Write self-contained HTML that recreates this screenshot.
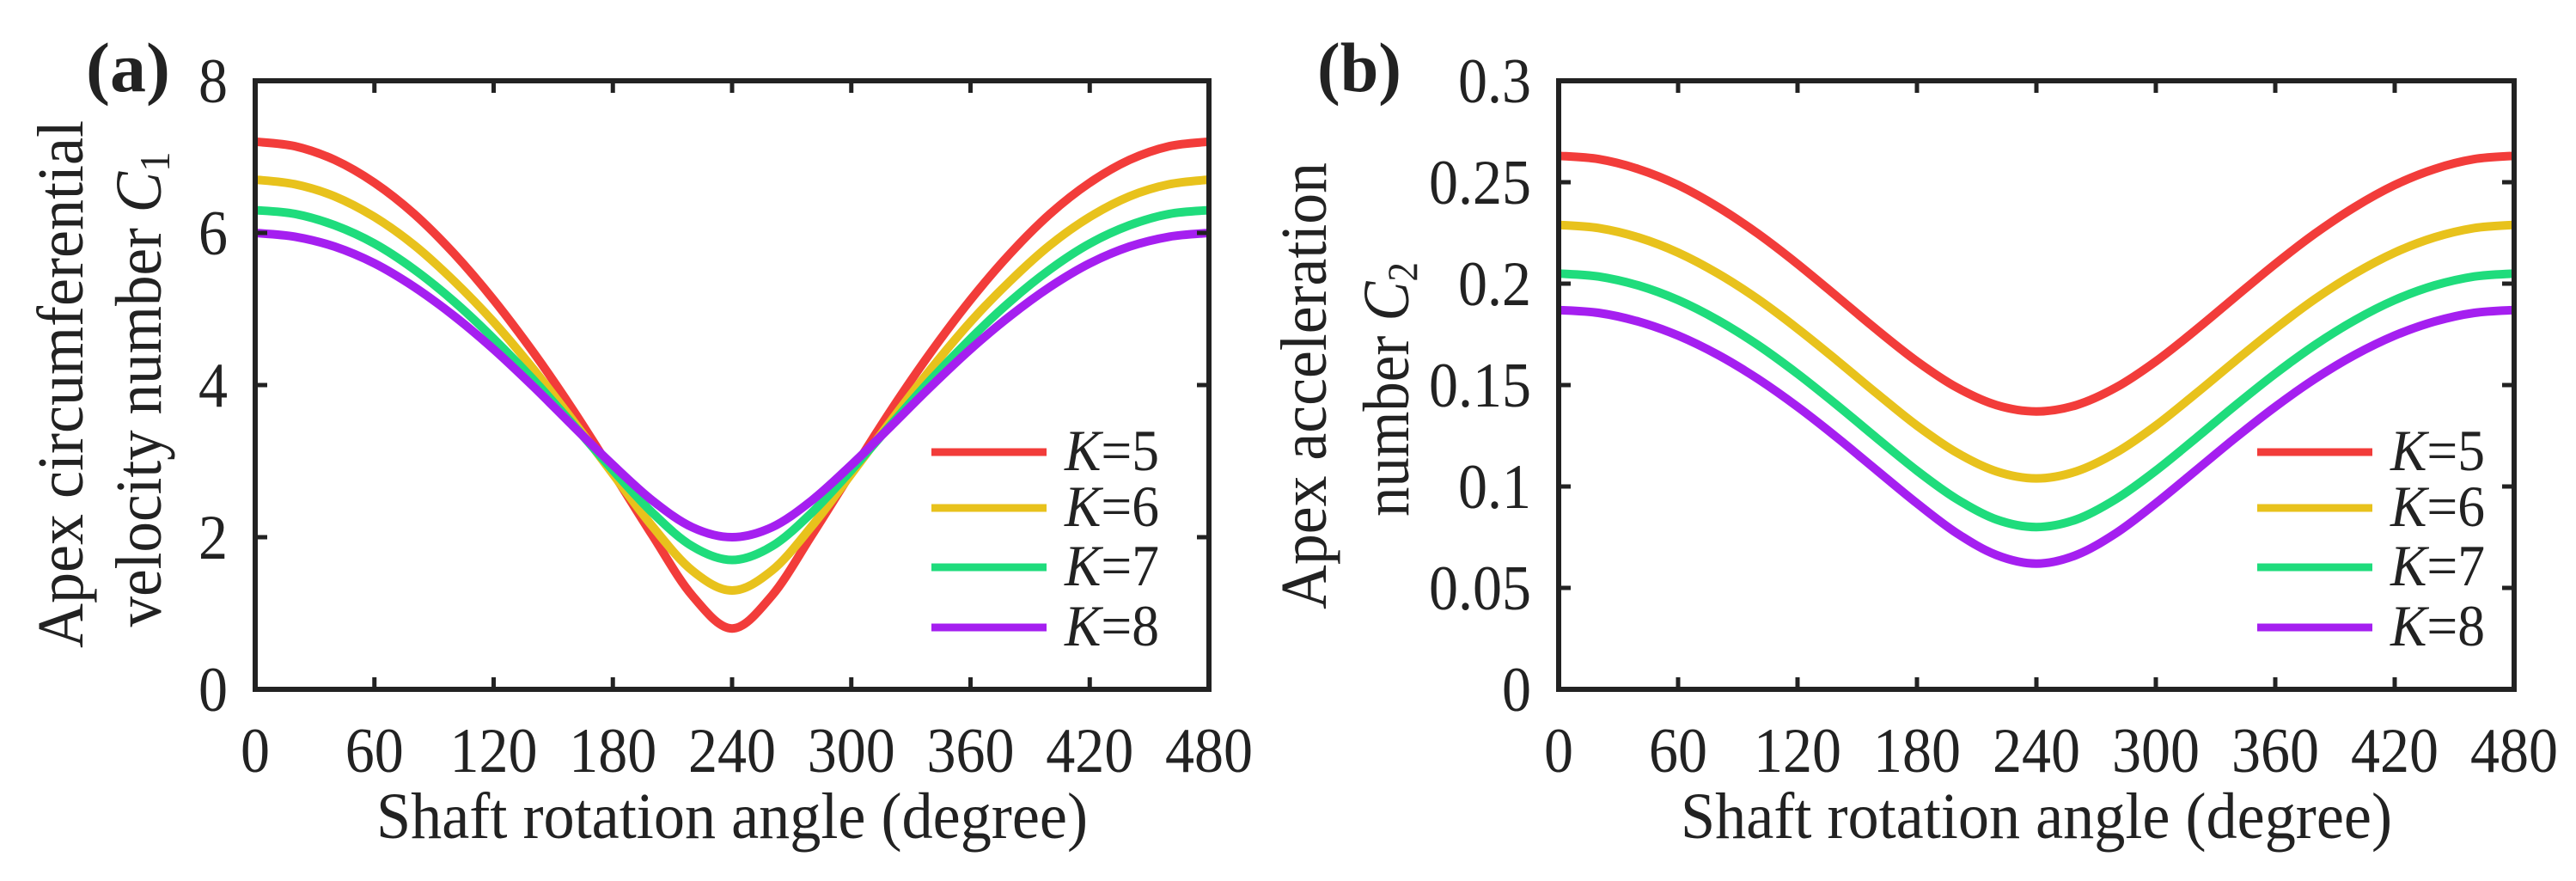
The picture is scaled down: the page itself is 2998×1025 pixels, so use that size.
<!DOCTYPE html>
<html><head><meta charset="utf-8"><style>
html,body{margin:0;padding:0;background:#fff;overflow:hidden}
svg text{font-family:"Liberation Serif",serif;fill:#222}
</style></head><body>
<svg id="chart" width="2998" height="1020" viewBox="0 0 2998 1020" xmlns="http://www.w3.org/2000/svg"></svg>
<script>
const angles = [0,20,40,60,80,100,120,140,160,180,200,220,240,260,280,300,320,340,360,380,400,420,440,460,480];
function mirror(h){return h.concat(h.slice(0,-1).reverse());}
const velK5 = mirror([7.20,7.14,6.96,6.66,6.25,5.73,5.12,4.43,3.67,2.85,2.02,1.23,0.80]);
const velK6 = mirror([6.70,6.64,6.48,6.21,5.84,5.37,4.83,4.21,3.53,2.83,2.14,1.56,1.30]);
const velK7 = mirror([6.30,6.25,6.10,5.86,5.52,5.10,4.61,4.07,3.48,2.88,2.32,1.88,1.70]);
const velK8 = mirror([6.00,5.95,5.82,5.60,5.29,4.91,4.47,3.98,3.46,2.95,2.48,2.13,2.00]);
const accK5 = mirror([0.263,0.2614,0.2565,0.2486,0.2378,0.2247,0.2097,0.1935,0.1771,0.1617,0.1488,0.1401,0.137]);
const accK6 = mirror([0.229,0.2274,0.2228,0.2153,0.2050,0.1924,0.1778,0.1620,0.1457,0.1300,0.1167,0.1074,0.104]);
const accK7 = mirror([0.205,0.2035,0.1991,0.1919,0.1820,0.1698,0.1556,0.1400,0.1237,0.1078,0.0938,0.0837,0.080]);
const accK8 = mirror([0.187,0.1856,0.1813,0.1744,0.1649,0.1531,0.1393,0.1240,0.1078,0.0917,0.0770,0.0662,0.062]);
const xTicks = [0,60,120,180,240,300,360,420,480];
const yTicksA = [0,2,4,6,8];
const yTicksB = [0,0.05,0.1,0.15,0.2,0.25,0.3];
const yTickLabelsB = ["0","0.05","0.1","0.15","0.2","0.25","0.3"];
const seriesLabels = ["5","6","7","8"];
const colors = ["#f23c3a","#e8c21c","#1fdc7c","#a51ff0"];

const NS="http://www.w3.org/2000/svg";
const svg=document.getElementById('chart');
function el(tag,attrs,parent){const e=document.createElementNS(NS,tag);for(const k in attrs)e.setAttribute(k,attrs[k]);(parent||svg).appendChild(e);return e;}

function smoothPath(pts){
  let d='M'+pts[0][0].toFixed(1)+','+pts[0][1].toFixed(1);
  for(let i=0;i<pts.length-1;i++){
    const p0=pts[Math.max(0,i-1)],p1=pts[i],p2=pts[i+1],p3=pts[Math.min(pts.length-1,i+2)];
    const c1=[p1[0]+(p2[0]-p0[0])/6,p1[1]+(p2[1]-p0[1])/6];
    const c2=[p2[0]-(p3[0]-p1[0])/6,p2[1]-(p3[1]-p1[1])/6];
    d+='C'+c1[0].toFixed(1)+','+c1[1].toFixed(1)+' '+c2[0].toFixed(1)+','+c2[1].toFixed(1)+' '+p2[0].toFixed(1)+','+p2[1].toFixed(1);
  }
  return d;
}

function panel(cfg){
  const g=el('g',{});
  
  
  const L=cfg.left,R=cfg.right,T=94,B=802;
  const sx=v=>L+(v-0)/480*(R-L);
  const sy=v=>B-(v-cfg.ymin)/(cfg.ymax-cfg.ymin)*(B-T);
  cfg.series.forEach((s,i)=>{
    const pts=angles.map((a,j)=>[sx(a),sy(s[j])]);
    const p=el('path',{d:smoothPath(pts),fill:'none',stroke:colors[i],'stroke-width':10,'stroke-linejoin':'round'},g);
    
    
  });
  const fr=el('rect',{x:L,y:T,width:R-L,height:B-T,fill:'none',stroke:'#222','stroke-width':6},g);
  
  
  xTicks.forEach(v=>{
    const x=sx(v);
    el('line',{x1:x,x2:x,y1:B,y2:B-14,stroke:'#222','stroke-width':5},g);
    el('line',{x1:x,x2:x,y1:T,y2:T+14,stroke:'#222','stroke-width':5},g);
    const w=String(v).length*34;
    const t=el('text',{x:x,y:898,'font-size':74,'text-anchor':'middle',textLength:w,lengthAdjust:'spacingAndGlyphs'},g);
    t.textContent=v;
    
    
  });
  cfg.yticks.forEach((v,i)=>{
    const y=sy(v);
    el('line',{x1:L,x2:L+14,y1:y,y2:y,stroke:'#222','stroke-width':5},g);
    el('line',{x1:R,x2:R-14,y1:y,y2:y,stroke:'#222','stroke-width':5},g);
    const s=cfg.ylabels[i];
    const w=s.replace('.','').length*34+(s.includes('.')?17:0);
    const t=el('text',{x:cfg.ylabX,y:y+25,'font-size':74,'text-anchor':'end',textLength:w,lengthAdjust:'spacingAndGlyphs'},g);
    t.textContent=s;
    
    
  });
  const xt=el('text',{x:(L+R)/2,y:975,'font-size':76,'text-anchor':'middle',textLength:828,lengthAdjust:'spacingAndGlyphs'},g);
  xt.textContent='Shaft rotation angle (degree)';
  
  
  cfg.ytitles.forEach(yt=>{
    const t=el('text',{x:0,y:0,'font-size':76,'text-anchor':'middle',textLength:yt.len,lengthAdjust:'spacingAndGlyphs',transform:`translate(${yt.x},${yt.cy}) rotate(-90)`},g);
    t.innerHTML=yt.html;
    
    
  });
  const pl=el('text',{x:cfg.plx,y:106,'font-size':82,'font-weight':'bold',textLength:98,lengthAdjust:'spacingAndGlyphs'},g);
  pl.textContent=cfg.panelLabel;
  
  
  const lg=el('g',{},g);
  
  
  const rows=[526,591,660,730];
  seriesLabels.forEach((k,i)=>{
    const it=el('g',{},lg);
    
    
    el('line',{x1:cfg.legX,x2:cfg.legX+134,y1:rows[i],y2:rows[i],stroke:colors[i],'stroke-width':9},it);
    const t=el('text',{x:cfg.legX+155,y:rows[i]+21,'font-size':68,textLength:110,lengthAdjust:'spacingAndGlyphs'},it);
    t.innerHTML='<tspan font-style="italic">K</tspan>='+k;
  });
}
panel({name:'panel-a-velocity',left:297,right:1407,ymin:0,ymax:8,
  series:[velK5,velK6,velK7,velK8],yticks:yTicksA,ylabels:yTicksA.map(String),ylabX:265,
  ytitles:[{x:96,cy:447,len:614,html:'Apex circumferential'},
           {x:187,cy:453,len:553,html:'velocity number <tspan font-style="italic">C</tspan><tspan font-size="50" dy="10">1</tspan>'}],
  plx:100,panelLabel:'(a)',legX:1084});
panel({name:'panel-b-acceleration',left:1814,right:2926,ymin:0,ymax:0.3,
  series:[accK5,accK6,accK7,accK8],yticks:yTicksB,ylabels:yTickLabelsB,ylabX:1782,
  ytitles:[{x:1543,cy:449,len:520,html:'Apex acceleration'},
           {x:1639,cy:453,len:296,html:'number <tspan font-style="italic">C</tspan><tspan font-size="50" dy="10">2</tspan>'}],
  plx:1533,panelLabel:'(b)',legX:2627});
</script>
</body></html>
